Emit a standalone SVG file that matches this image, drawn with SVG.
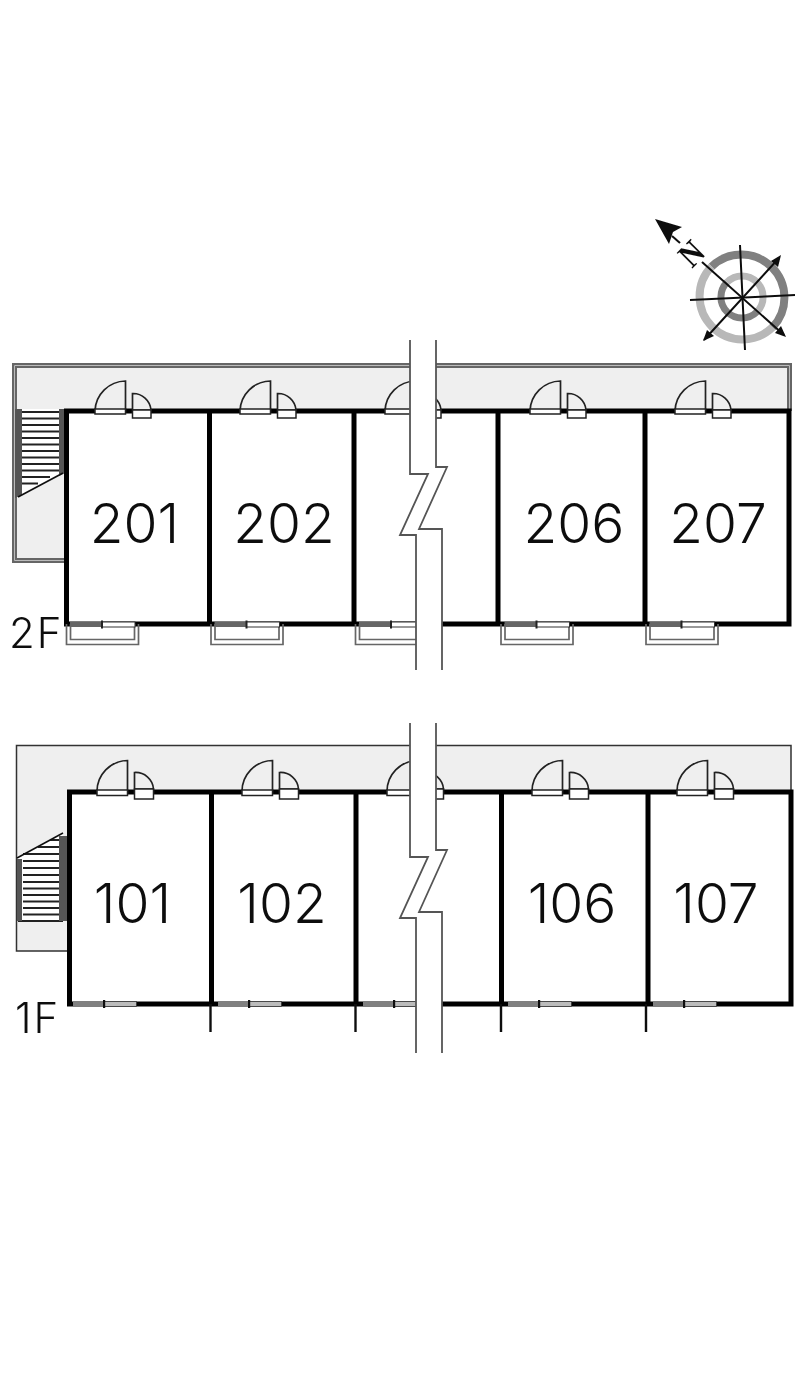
<svg xmlns="http://www.w3.org/2000/svg" width="800" height="1381" viewBox="0 0 800 1381">
<style>
.wall{fill:none;stroke:#000;stroke-width:5;stroke-linecap:square}
.leaf{fill:#efefef;stroke:#222;stroke-width:1.7}
.box{fill:#fff;stroke:#222;stroke-width:1.5}
.floor{fill:#efefef}
.num{font-family:"Inter","Liberation Sans",sans-serif;font-weight:350;font-size:55px;fill:#111;text-anchor:middle}
.lvl{font-family:"Inter","Liberation Sans",sans-serif;font-weight:350;font-size:42px;letter-spacing:2px;fill:#111}
.brk{fill:#fff;stroke:none}
.brl{fill:none;stroke:#555;stroke-width:1.8}
.step{stroke:#222;stroke-width:2}
.gray{fill:none;stroke:#666;stroke-width:1.7}
</style>
<defs>
<filter id="soft" x="0" y="0" width="100%" height="100%"><feGaussianBlur stdDeviation="0.35"/></filter>
<g id="door2">
<path class="leaf" d="M95 411A31 31 0 0 1 125.500 381V411Z"/>
<rect class="box" x="95" y="409" width="30.500" height="5"/>
<path class="leaf" d="M132.500 410V393.500A18 18 0 0 1 151 410Z"/>
<rect class="box" x="132.500" y="410" width="18.500" height="8"/>
</g>
<g id="door1">
<path class="leaf" d="M97 792A31 31 0 0 1 127.500 760.500V792Z"/>
<rect class="box" x="97" y="790" width="30.500" height="5.500"/>
<path class="leaf" d="M134.500 789V772.500A18 18 0 0 1 153.500 789Z"/>
<rect class="box" x="134.500" y="789" width="19" height="10"/>
</g>
<g id="win2">
<path class="gray" d="M66.500 624V644.500H138.500V624"/>
<path class="gray" d="M70.500 624V639.500H134.500V624"/>
<rect x="70" y="622" width="32" height="5" fill="#666"/>
<rect x="102" y="622" width="33" height="5" fill="#fff" stroke="#333"/>
<rect x="101" y="620.500" width="2" height="8" fill="#222"/>
</g>
<g id="win1">
<rect x="73" y="1001.500" width="31" height="5" fill="#808080"/>
<rect x="104" y="1001.500" width="32.500" height="5" fill="#bbb" stroke="#333" stroke-width=".8"/>
<rect x="103" y="1000" width="2.200" height="8" fill="#111"/>
</g>
</defs>
<rect width="800" height="1381" fill="#fff"/>
<g filter="url(#soft)">
<g id="floor-2F">
<path class="floor" d="M14 365H790V412H65V558H14Z"/>
<path d="M66 560.500H14.500V365.500H789.500V411" fill="none" stroke="#666" stroke-width="5"/>
<path d="M66 560.500H14.500V365.500H789.500V411" fill="none" stroke="#bbb" stroke-width="1"/>
</g>
<g id="stairs-2F">
<path d="M18 409H63V473L18 497Z" fill="#fff"/>
<path class="step" d="M22 412H60M22 418.500H60M22 425H60M22 431.500H60M22 438H60M22 444.500H60M22 451H60M22 457.500H60M22 464H60M22 470.500H60M22 477H50M22 483.500H38"/>
<path d="M15 409H22V495L15 498ZM59 409H65V473L59 476Z" fill="#555"/>
<path d="M18 497L63 473" stroke="#111" stroke-width="1.6"/>
</g>
<g id="units-2F">
<rect x="66" y="411" width="723" height="213" fill="#fff"/>
<path class="wall" d="M66.500 411H789V624H66.500ZM209.500 411V624M354 411V624M498 411V624M645 411V624"/>
</g>
<g id="doors-2F">
<use href="#door2"/><use href="#door2" x="145"/><use href="#door2" x="290"/><use href="#door2" x="435"/><use href="#door2" x="580"/>
</g>
<g id="windows-2F">
<use href="#win2"/><use href="#win2" x="144.500"/><use href="#win2" x="289"/><use href="#win2" x="434.500"/><use href="#win2" x="579.500"/>
</g>
<g id="room-201"><text class="num" x="134.500" y="543">201</text></g>
<g id="room-202"><text class="num" x="284" y="543">202</text></g>
<g id="room-206"><text class="num" x="574" y="543">206</text></g>
<g id="room-207"><text class="num" x="718" y="543">207</text></g>
<text id="label-2F" class="lvl" x="9" y="648">2F</text>
<g id="floor-1F">
<path class="floor" d="M16 746H791V792H69V951H16Z"/>
<path d="M69 951H16.500V745.500H791V792" fill="none" stroke="#333" stroke-width="1.500"/>
</g>
<g id="stairs-1F">
<path d="M18 858L63 833V921H18Z" fill="#fff"/>
<path class="step" d="M50 840H59M38 847H59M23 854H59M23 861H59M23 868H59M23 875H59M23 882H59M23 888.500H59M23 895H59M23 901.500H59M23 908H59M23 914.500H59M18 921H63"/>
<path d="M17 859H22V921H17ZM59 836H67V921H59Z" fill="#555"/>
<path d="M17 858L63 833" stroke="#111" stroke-width="1.600"/>
</g>
<g id="units-1F">
<rect x="69" y="792" width="722" height="212" fill="#fff"/>
<path class="wall" d="M69.500 792H791V1004H69.500ZM211.500 792V1004M356 792V1004M501.500 792V1004M648 792V1004"/>
<path d="M210.500 1004V1032M355.500 1004V1032M501 1004V1032M646 1004V1032" stroke="#111" stroke-width="2.400" fill="none"/>
</g>
<g id="doors-1F">
<use href="#door1"/><use href="#door1" x="145"/><use href="#door1" x="290"/><use href="#door1" x="435"/><use href="#door1" x="580"/>
</g>
<g id="windows-1F">
<use href="#win1"/><use href="#win1" x="145"/><use href="#win1" x="290"/><use href="#win1" x="435"/><use href="#win1" x="580"/>
</g>
<g id="room-101"><text class="num" x="132.500" y="923">101</text></g>
<g id="room-102"><text class="num" x="282" y="923">102</text></g>
<g id="room-106"><text class="num" x="572" y="923">106</text></g>
<g id="room-107"><text class="num" x="716" y="923">107</text></g>
<text id="label-1F" class="lvl" x="15" y="1033">1F</text>
<g id="break-2F">
<path class="brk" d="M410 340H436V467H447L419 529H442V670H416V535H400L428 474H410Z"/>
<path class="brl" d="M410 340V474H428L400 535H416V670M436 340V467H447L419 529H442V670"/>
</g>
<g id="break-1F">
<path class="brk" d="M410 723H436V850H447L419 912H442V1053H416V918H400L428 857H410Z"/>
<path class="brl" d="M410 723V857H428L400 918H416V1053M436 723V850H447L419 912H442V1053"/>
</g>
<g id="compass">
<g fill="none">
<path d="M711.600 266.600A43 43 0 0 1 772.400 327.400" stroke="#808080" stroke-width="8"/>
<path d="M772.400 327.400A43 43 0 0 1 711.600 266.600" stroke="#b8b8b8" stroke-width="8"/>
<path d="M756.900 311.900A21 21 0 0 1 727.100 282.100" stroke="#808080" stroke-width="7"/>
<path d="M727.100 282.100A21 21 0 0 1 756.900 311.900" stroke="#b8b8b8" stroke-width="7"/>
</g>
<g stroke="#111" stroke-width="2" fill="none">
<path d="M740 245L745 350M690 300L795 295"/>
<path d="M702 262L784 335M704 340L779 258"/>
</g>
<path d="M786 337L775 333L781 326ZM781 255L778 267L771 261ZM703 341L707 330L714 336Z" fill="#111"/>
<path d="M655 219L682 227L673 232L669 244Z" fill="#111"/>
<path d="M672 236L680 243" stroke="#111" stroke-width="2"/>
<text transform="translate(692,269) rotate(-45) scale(.85,1)" font-family="Liberation Serif,serif" font-weight="700" font-size="34" fill="#111">N</text>
</g>
</g>
</svg>
